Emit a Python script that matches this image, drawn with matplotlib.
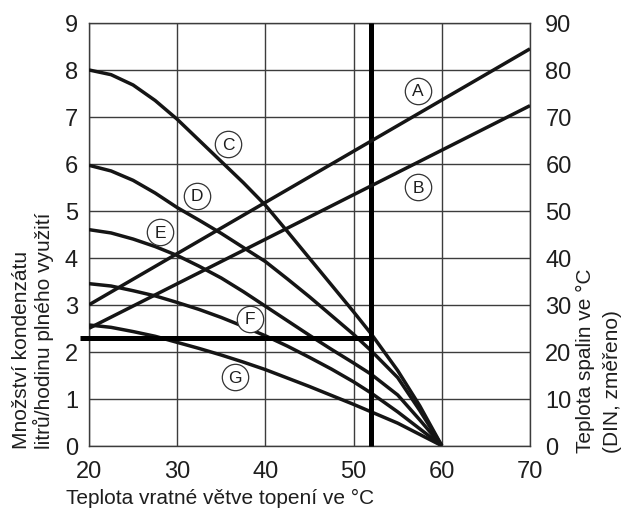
import matplotlib
matplotlib.use("Agg")
import matplotlib.pyplot as plt

plt.rcParams['font.family'] = ['Liberation Sans', 'DejaVu Sans']

# return temperature (x) and condensate curves (left axis, l/h)
x_curve = [20, 22.5, 25, 27.5, 30, 32.5, 35, 37.5, 40, 42.5, 45, 47.5, 50, 52, 55, 57.5, 60]
curve_C = [8.0, 7.9, 7.68, 7.35, 6.95, 6.5, 6.05, 5.6, 5.12, 4.56, 3.99, 3.42, 2.85, 2.38, 1.6, 0.85, 0.0]
curve_D = [5.97, 5.85, 5.65, 5.38, 5.07, 4.8, 4.52, 4.22, 3.92, 3.55, 3.17, 2.77, 2.37, 2.02, 1.45, 0.75, 0.0]
curve_E = [4.6, 4.53, 4.4, 4.24, 4.05, 3.82, 3.57, 3.28, 2.97, 2.66, 2.35, 2.05, 1.76, 1.52, 1.08, 0.55, 0.0]
curve_F = [3.45, 3.4, 3.3, 3.19, 3.05, 2.9, 2.73, 2.54, 2.34, 2.12, 1.88, 1.63, 1.36, 1.12, 0.72, 0.36, 0.0]
curve_G = [2.57, 2.52, 2.43, 2.33, 2.2, 2.07, 1.93, 1.78, 1.62, 1.44, 1.26, 1.07, 0.88, 0.72, 0.48, 0.24, 0.0]

# flue gas temperature lines (right axis, degC)
x_line = [20, 70]
line_A = [30, 84.5]
line_B = [25, 72.4]

# reading example
mark_x = 52
mark_y = 2.3

# circled labels
lbl_left = ["C", "D", "E", "F", "G"]
lbl_left_x = [35.8, 32.2, 28.05, 38.2, 36.5]
lbl_left_y = [6.42, 5.32, 4.54, 2.70, 1.46]
lbl_right = ["A", "B"]
lbl_right_x = [57.3, 57.3]
lbl_right_y = [75.6, 55.0]

xticks = [20, 30, 40, 50, 60, 70]
yticks_left = list(range(0, 10))
yticks_right = list(range(0, 91, 10))

ink = '#151515'
grid_col = '#3c3c3c'
txt = '#1e1e1e'

fig = plt.figure(figsize=(6.23, 5.10), dpi=100)
ax = fig.add_axes([89 / 623, (510 - 446.7) / 510, 441 / 623, 422.7 / 510])
ax.set_xlim(20, 70)
ax.set_ylim(0, 9)
ax.set_xticks(xticks)
ax.set_yticks(yticks_left)
ax.grid(True, color=grid_col, lw=1.0)
ax.set_axisbelow(True)
for s in ax.spines.values():
    s.set_color(grid_col)
    s.set_linewidth(1.0)
ax.tick_params(length=0, labelsize=17, colors=txt)
ax.tick_params(axis='x', pad=10)
ax.tick_params(axis='y', pad=8)

for yy in [curve_C, curve_D, curve_E, curve_F, curve_G]:
    ax.plot(x_curve, yy, color=ink, lw=2.5, solid_capstyle='butt', solid_joinstyle='round', zorder=3)

# thick reading lines
ax.plot([mark_x, mark_x], [0, 9], color='black', lw=3.6, solid_capstyle='butt', zorder=4, clip_on=False)
ax.plot([19.0, mark_x], [mark_y, mark_y], color='black', lw=3.6, solid_capstyle='butt', zorder=4, clip_on=False)

ax2 = ax.twinx()
ax2.set_ylim(0, 90)
ax2.set_yticks(yticks_right)
ax2.tick_params(length=0, labelsize=17, colors=txt, pad=11)
for s in ax2.spines.values():
    s.set_visible(False)
ax2.plot(x_line, line_A, color=ink, lw=2.5, solid_capstyle='butt', zorder=3)
ax2.plot(x_line, line_B, color=ink, lw=2.5, solid_capstyle='butt', zorder=3)

for t, xx, yy in zip(lbl_left, lbl_left_x, lbl_left_y):
    ax2.plot(xx, yy * 10, 'o', ms=19, mfc='white', mec='#333333', mew=0.9, zorder=6)
    ax2.text(xx, yy * 10, t, ha='center', va='center', fontsize=12.5, color=txt, zorder=7)
for t, xx, yy in zip(lbl_right, lbl_right_x, lbl_right_y):
    ax2.plot(xx, yy, 'o', ms=19, mfc='white', mec='#333333', mew=0.9, zorder=6)
    ax2.text(xx, yy, t, ha='center', va='center', fontsize=12.5, color=txt, zorder=7)

# axis titles
fig.text(220 / 623, 1 - 498 / 510, "Teplota vratné větve topení ve °C", ha='center', va='center',
         fontsize=15, color=txt)
fig.text(22 / 623, 1 - 449 / 510, "Množství kondenzátu", rotation=90, ha='center', va='bottom',
         fontsize=15, color=txt)
fig.text(43 / 623, 1 - 449 / 510, "litrů/hodinu plného využití", rotation=90, ha='center', va='bottom',
         fontsize=15, color=txt)
fig.text(585 / 623, 1 - 453 / 510, "Teplota spalin ve °C", rotation=90, ha='center', va='bottom',
         fontsize=15, color=txt)
fig.text(612 / 623, 1 - 453 / 510, "(DIN, změřeno)", rotation=90, ha='center', va='bottom',
         fontsize=15, color=txt)

fig.savefig("out.png", dpi=100, facecolor='white')
